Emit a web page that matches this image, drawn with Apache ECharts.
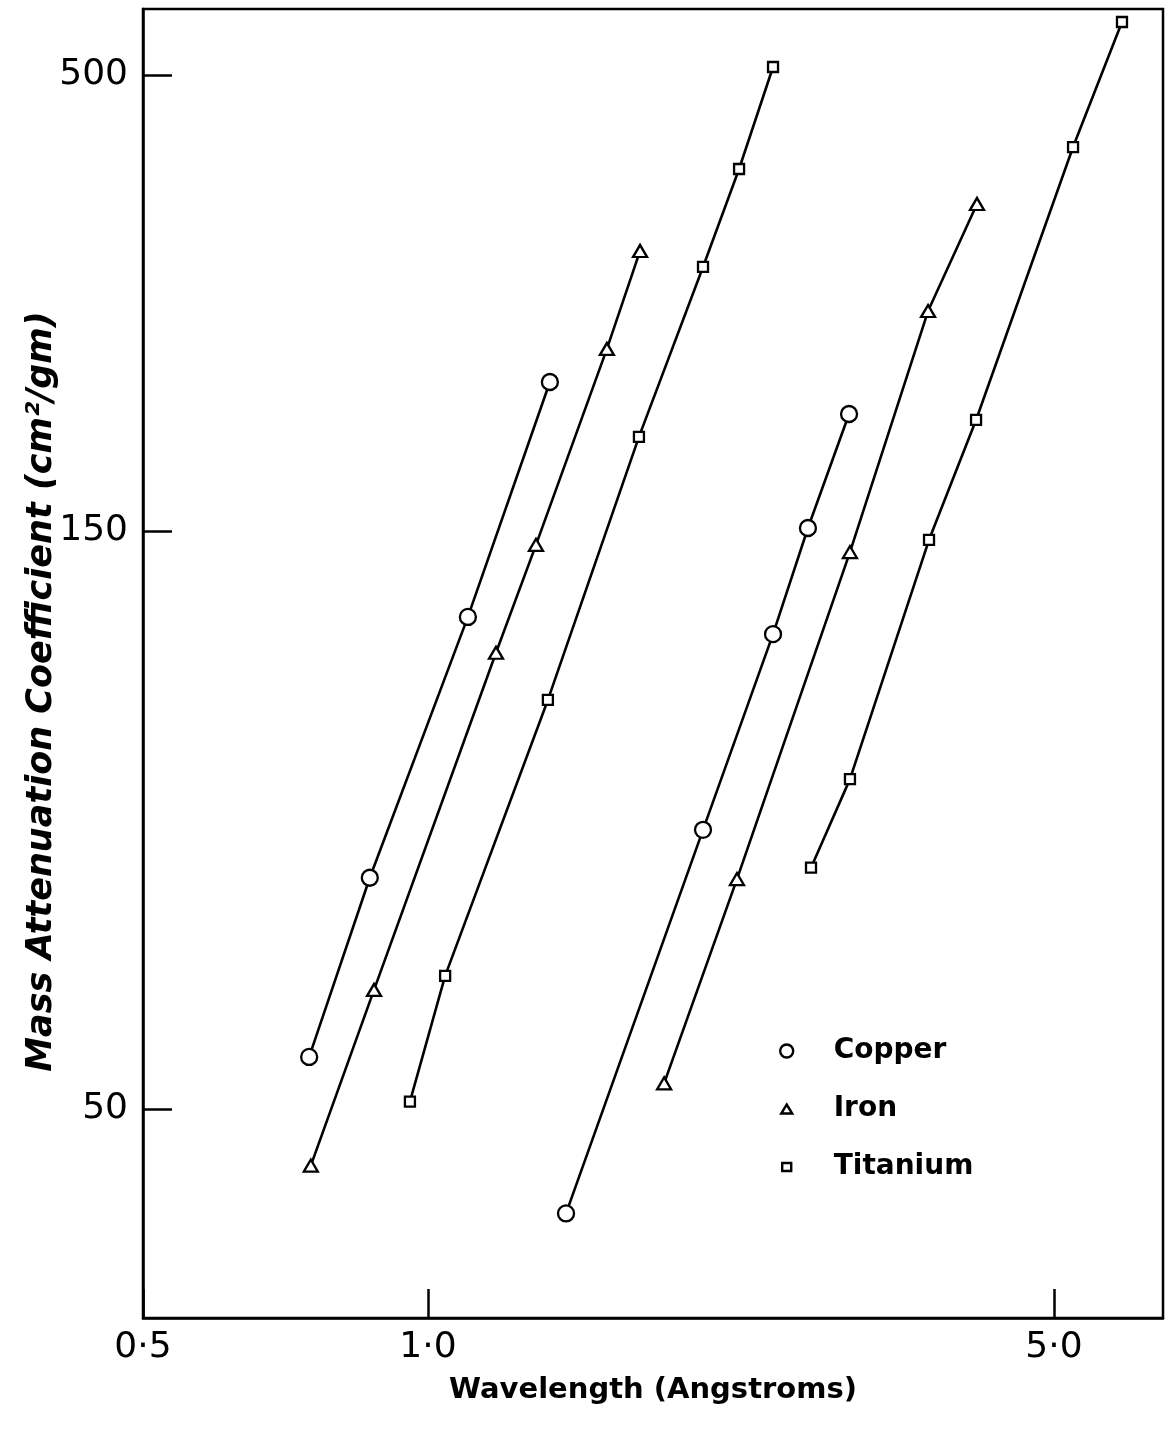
<!DOCTYPE html>
<html>
<head>
<meta charset="utf-8">
<script src="https://cdn.jsdelivr.net/npm/echarts@6/dist/echarts.min.js"></script>
<style>
  html, body { margin: 0; padding: 0; background: #fff; }
  #chart { width: 1168px; height: 1433px; }
</style>
</head>
<body>
<div id="chart"></div>
<script>
// ---- Tick values and labels ----
const xTickValues = [0.5, 1.0, 5.0];
const xTickLabels = ['0·5', '1·0', '5·0'];
const yTickValues = [50, 150, 500];
const yTickLabels = ['50', '150', '500'];

const legendNames = ['Copper', 'Iron', 'Titanium'];

// ---- Data: wavelength (Angstroms) and mass attenuation coefficient (cm²/gm) ----
// Each element has two branches (either side of its absorption edge).
const copperShortWl = [0.749, 0.868, 1.108, 1.368];
const copperShortMu = [55.2, 77.6, 127.4, 222.3];
const copperLongWl  = [1.426, 2.028, 2.428, 2.656, 2.952];
const copperLongMu  = [41.0, 85.0, 123.3, 151.2, 204.3];

const ironShortWl = [0.752, 0.877, 1.191, 1.320, 1.584, 1.725];
const ironShortMu = [44.9, 62.7, 119.0, 146.1, 242.6, 314.2];
const ironLongWl  = [1.835, 2.213, 2.959, 3.617, 4.102];
const ironLongMu  = [52.5, 77.4, 144.1, 268.1, 355.7];

const titaniumShortWl = [0.957, 1.045, 1.361, 1.720, 2.028, 2.225, 2.428];
const titaniumShortMu = [50.7, 64.4, 108.8, 192.3, 301.2, 390.1, 510.7];
const titaniumLongWl  = [2.677, 2.959, 3.626, 4.092, 5.251, 5.955];
const titaniumLongMu  = [79.1, 93.6, 147.5, 201.1, 413.4, 575.1];

// ---- Axis scales ----
// The printed axes are logarithmic, but the length of a decade differs between
// the tick intervals of the original print, so each axis is a piecewise-log
// scale anchored at its ticks (anchor offsets in axis units).
const xScale = { ticks: xTickValues, offsets: [0, 285, 911], min: 0, max: 1020 };
const yScale = { ticks: yTickValues, offsets: [0, 578, 1034], min: -209, max: 1100 };

function toAxis(scale, v) {
  const L = Math.log10(v);
  const t = scale.ticks.map(Math.log10);
  let i = 0;
  while (i < t.length - 2 && L > t[i + 1]) i++;
  return scale.offsets[i] + (L - t[i]) / (t[i + 1] - t[i]) * (scale.offsets[i + 1] - scale.offsets[i]);
}
function tickLabel(scale, labels, v) {
  let best = 0, bd = Infinity;
  scale.ticks.forEach((t, i) => {
    const d = Math.abs(toAxis(scale, t) - v);
    if (d < bd) { bd = d; best = i; }
  });
  return labels[best];
}

const FONT = 'DejaVu Sans';
const SQUARE_ICON = 'path://M0,0M2,2.5L11,2.5L11,10.5L2,10.5ZM13,13';
const TRIANGLE_ICON = 'path://M0,0M6.5,2L12,11L1,11ZM13,13';

function branch(name, wl, mu, symbol, size) {
  return {
    type: 'line',
    name: name,
    data: wl.map((w, i) => [toAxis(xScale, w), toAxis(yScale, mu[i])]),
    symbol: symbol,
    symbolSize: size,
    showSymbol: true,
    showAllSymbol: true,
    lineStyle: { color: '#000', width: 2.6 },
    itemStyle: { color: '#fff', borderColor: '#000', borderWidth: 2.3 },
    emphasis: { disabled: true },
    silent: true,
    animation: false
  };
}

const chart = echarts.init(document.getElementById('chart'), null, { renderer: 'canvas' });

chart.setOption({
  backgroundColor: '#fff',
  animation: false,
  grid: {
    left: 143, right: 5, top: 9, bottom: 115,
    show: true, borderColor: '#000', borderWidth: 2.5, backgroundColor: 'transparent',
    outerBoundsMode: 'none', containLabel: false
  },
  xAxis: {
    type: 'value',
    min: xScale.min, max: xScale.max,
    name: 'Wavelength (Angstroms)',
    nameLocation: 'middle',
    nameGap: 58,
    nameTextStyle: { fontFamily: FONT, fontWeight: 'bold', fontSize: 29, color: '#000' },
    axisLine: { show: true, onZero: false, lineStyle: { color: '#000', width: 2.5 } },
    axisTick: {
      show: true, inside: true, length: 29,
      customValues: xTickValues.map(v => toAxis(xScale, v)),
      lineStyle: { color: '#000', width: 2.5 }
    },
    axisLabel: {
      show: true, margin: 12,
      customValues: xTickValues.map(v => toAxis(xScale, v)),
      formatter: v => tickLabel(xScale, xTickLabels, v),
      fontFamily: FONT, fontSize: 36, color: '#000'
    },
    splitLine: { show: false }
  },
  yAxis: {
    type: 'value',
    min: yScale.min, max: yScale.max,
    name: 'Mass Attenuation Coefficient (cm²/gm)',
    nameLocation: 'middle',
    nameGap: 84,
    nameMoveOverlap: false,
    nameRotate: 90,
    nameTextStyle: { fontFamily: FONT, fontWeight: 'bold', fontStyle: 'italic', fontSize: 35, color: '#000', padding: [0, 56, 0, 0] },
    axisLine: { show: true, onZero: false, lineStyle: { color: '#000', width: 2.5 } },
    axisTick: {
      show: true, inside: true, length: 29,
      customValues: yTickValues.map(v => toAxis(yScale, v)),
      lineStyle: { color: '#000', width: 2.5 }
    },
    axisLabel: {
      show: true, margin: 15,
      customValues: yTickValues.map(v => toAxis(yScale, v)),
      formatter: v => tickLabel(yScale, yTickLabels, v),
      fontFamily: FONT, fontSize: 36, color: '#000'
    },
    splitLine: { show: false }
  },
  legend: {
    orient: 'vertical',
    left: 774, top: 1032,
    itemWidth: 84, itemHeight: 13,
    itemGap: 30,
    selectedMode: false,
    data: [
      { name: legendNames[0], icon: 'circle' },
      { name: legendNames[1], icon: TRIANGLE_ICON },
      { name: legendNames[2], icon: SQUARE_ICON }
    ],
    itemStyle: { color: '#fff', borderColor: '#000', borderWidth: 2.4 },
    textStyle: { fontFamily: FONT, fontWeight: 'bold', fontSize: 28, color: '#000' }
  },
  series: [
    branch(legendNames[0], copperShortWl, copperShortMu, 'circle', 16),
    branch(legendNames[0], copperLongWl, copperLongMu, 'circle', 16),
    branch(legendNames[1], ironShortWl, ironShortMu, 'triangle', [14, 12]),
    branch(legendNames[1], ironLongWl, ironLongMu, 'triangle', [14, 12]),
    branch(legendNames[2], titaniumShortWl, titaniumShortMu, 'rect', 10),
    branch(legendNames[2], titaniumLongWl, titaniumLongMu, 'rect', 10)
  ]
});
</script>
</body>
</html>
